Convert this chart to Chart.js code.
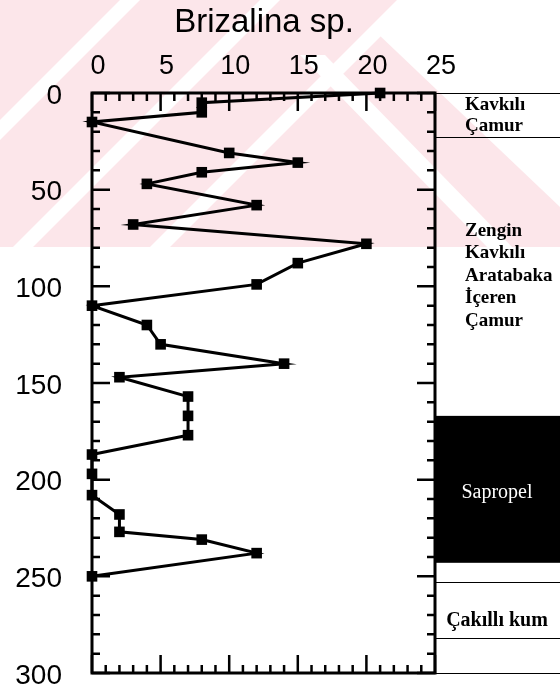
<!DOCTYPE html>
<html>
<head>
<meta charset="utf-8">
<script src="https://cdn.jsdelivr.net/npm/chart.js@4.4.0/dist/chart.umd.min.js"></script>
<style>
html, body { margin: 0; padding: 0; background: #fff; }
#wrap { width: 560px; height: 693px; }
</style>
</head>
<body>
<div id="wrap"><canvas id="brizalinaChart" width="560" height="693"></canvas></div>
<script>
// Brizalina sp. counts down the core (depth in cm)
const depths = [0, 5, 10, 15, 31, 36, 41, 47, 58, 68, 78, 88, 99, 110, 120, 130, 140, 147, 157, 167, 177, 187, 197, 208, 218, 227, 231, 238, 250];
const counts = [21, 8, 8, 0, 10, 15, 8, 4, 12, 3, 20, 15, 12, 0, 4, 5, 14, 2, 7, 7, 7, 0, 0, 0, 2, 2, 8, 12, 0];

const countTicks = [0, 5, 10, 15, 20, 25];
const depthTicks = [0, 50, 100, 150, 200, 250, 300];

// lithology column
const layerNames = [['Kavkılı', 'Çamur'], ['Zengin', 'Kavkılı', 'Aratabaka', 'İçeren', 'Çamur'], ['Sapropel'], [], ['Çakıllı kum'], []];
const layerTops = [0, 22.5, 167, 243, 253, 282];
const layerBottoms = [22.5, 167, 243, 253, 282, 300];

const titleText = 'Brizalina sp.';

const PINK = '#fce6ea';

function fillPoly(ctx, pts) {
    ctx.beginPath();
    ctx.moveTo(pts[0][0], pts[0][1]);
    pts.slice(1).forEach(p => ctx.lineTo(p[0], p[1]));
    ctx.closePath();
    ctx.fill();
}

// faint striped backdrop over the upper part of the page
const watermarkPlugin = {
    id: 'watermark',
    beforeDraw(chart) {
        const ctx = chart.ctx;
        ctx.save();
        ctx.beginPath();
        ctx.rect(0, 0, chart.width, 247);
        ctx.clip();
        ctx.fillStyle = PINK;
        ctx.fillRect(0, 0, chart.width, 247);
        ctx.fillStyle = '#fff';
        [130, 270, 407].forEach(c => {
            fillPoly(ctx, [[c - 10, 0], [c + 10, 0], [c + 10 - 300, 300], [c - 10 - 300, 300]]);
        });
        fillPoly(ctx, [[405, 0], [560, 0], [560, 207], [377, 33]]);
        fillPoly(ctx, [[300, 55], [325, 55], [515, 250], [490, 250]]);
        ctx.restore();
    }
};

const framePlugin = {
    id: 'frame',
    beforeDatasetsDraw(chart) {
        const ctx = chart.ctx;
        const xs = chart.scales.x;
        const ys = chart.scales.y;
        const L = xs.left, R = xs.right, T = ys.top, B = ys.bottom;

        ctx.save();
        // title
        ctx.fillStyle = '#000';
        ctx.font = '33px "Liberation Sans", Arial, sans-serif';
        ctx.textAlign = 'center';
        ctx.textBaseline = 'alphabetic';
        ctx.fillText(titleText, 264, 32);

        // lithology column
        layerNames.forEach((lines, i) => {
            if (lines[0] === 'Sapropel') {
                const y0 = ys.getPixelForValue(layerTops[i]);
                const y1 = ys.getPixelForValue(layerBottoms[i]);
                ctx.fillStyle = '#000';
                ctx.fillRect(R, y0, chart.width - R, y1 - y0);
            }
        });
        ctx.strokeStyle = '#000';
        ctx.lineWidth = 1.2;
        [0, 22.5, 253, 282, 300].forEach(d => {
            const py = Math.round(ys.getPixelForValue(d)) + 0.5;
            ctx.beginPath();
            ctx.moveTo(R, py);
            ctx.lineTo(chart.width, py);
            ctx.stroke();
        });
        layerNames.forEach((lines, i) => {
            if (!lines.length) return;
            const y0 = ys.getPixelForValue(layerTops[i]);
            const y1 = ys.getPixelForValue(layerBottoms[i]);
            const mid = (y0 + y1) / 2;
            const sapropel = lines[0] === 'Sapropel';
            const single = lines.length === 1;
            const lh = i === 0 ? 21 : 22.5;
            ctx.font = (sapropel ? '' : 'bold ') + (single ? '20px' : '19px') + ' "Liberation Serif", "Times New Roman", serif';
            ctx.fillStyle = sapropel ? '#fff' : '#000';
            ctx.textAlign = single ? 'center' : 'left';
            const nudge = lines[0] === 'Çakıllı kum' ? 9 : (i === 1 ? -2 : (sapropel ? 2 : -1));
            lines.forEach((t, k) => {
                const by = mid + (k - (lines.length - 1) / 2) * lh + 6.5 + nudge;
                ctx.fillText(t, single ? 497 : 465, by);
            });
        });

        // plot frame
        ctx.strokeStyle = '#000';
        ctx.lineWidth = 3;
        ctx.strokeRect(L, T, R - L, B - T);

        // inward tick marks
        ctx.lineWidth = 2.5;
        for (let v = 0; v <= 25; v++) {
            const px = xs.getPixelForValue(v);
            const len = v % 5 === 0 ? 18 : 8;
            ctx.beginPath();
            ctx.moveTo(px, T);
            ctx.lineTo(px, T + len);
            ctx.moveTo(px, B);
            ctx.lineTo(px, B - len);
            ctx.stroke();
        }
        for (let d = 0; d <= 300; d += 10) {
            const py = ys.getPixelForValue(d);
            const len = d % 50 === 0 ? 18 : 8;
            ctx.beginPath();
            ctx.moveTo(L, py);
            ctx.lineTo(L + len, py);
            ctx.moveTo(R, py);
            ctx.lineTo(R - len, py);
            ctx.stroke();
        }
        ctx.restore();
    }
};

document.addEventListener('DOMContentLoaded', function() {
    const ctx = document.getElementById('brizalinaChart').getContext('2d');
    new Chart(ctx, {
        type: 'scatter',
        data: {
            datasets: [{
                data: depths.map((d, i) => ({ x: counts[i], y: d })),
                showLine: true,
                borderColor: '#000',
                borderWidth: 3,
                pointStyle: 'rect',
                pointRadius: 7.5,
                pointBackgroundColor: '#000',
                pointBorderWidth: 0,
                tension: 0,
                clip: false
            }]
        },
        options: {
            responsive: false,
            animation: false,
            layout: { padding: { top: 0, right: 125, bottom: 20, left: 0 } },
            plugins: {
                legend: { display: false },
                tooltip: { enabled: false }
            },
            scales: {
                x: {
                    type: 'linear',
                    position: 'top',
                    min: 0,
                    max: 25,
                    afterBuildTicks: s => { s.ticks = countTicks.map(v => ({ value: v })); },
                    ticks: {
                        color: '#000',
                        font: { family: '"Liberation Sans", Arial, sans-serif', size: 27 },
                        padding: 10,
                        labelOffset: 6,
                        maxRotation: 0
                    },
                    grid: { display: false, drawTicks: false },
                    border: { display: false },
                    afterFit: s => {
                        s.height = 93;
                        s.paddingLeft = 0;
                        s.paddingRight = 0;
                    }
                },
                y: {
                    type: 'linear',
                    reverse: true,
                    min: 0,
                    max: 300,
                    afterBuildTicks: s => { s.ticks = depthTicks.map(v => ({ value: v })); },
                    ticks: {
                        color: '#000',
                        font: { family: '"Liberation Sans", Arial, sans-serif', size: 28 },
                        padding: 30,
                        labelOffset: 3
                    },
                    grid: { display: false, drawTicks: false },
                    border: { display: false },
                    afterFit: s => {
                        s.width = 92;
                        s.paddingTop = 0;
                        s.paddingBottom = 0;
                    }
                }
            }
        },
        plugins: [watermarkPlugin, framePlugin]
    });
});
</script>
</body>
</html>
